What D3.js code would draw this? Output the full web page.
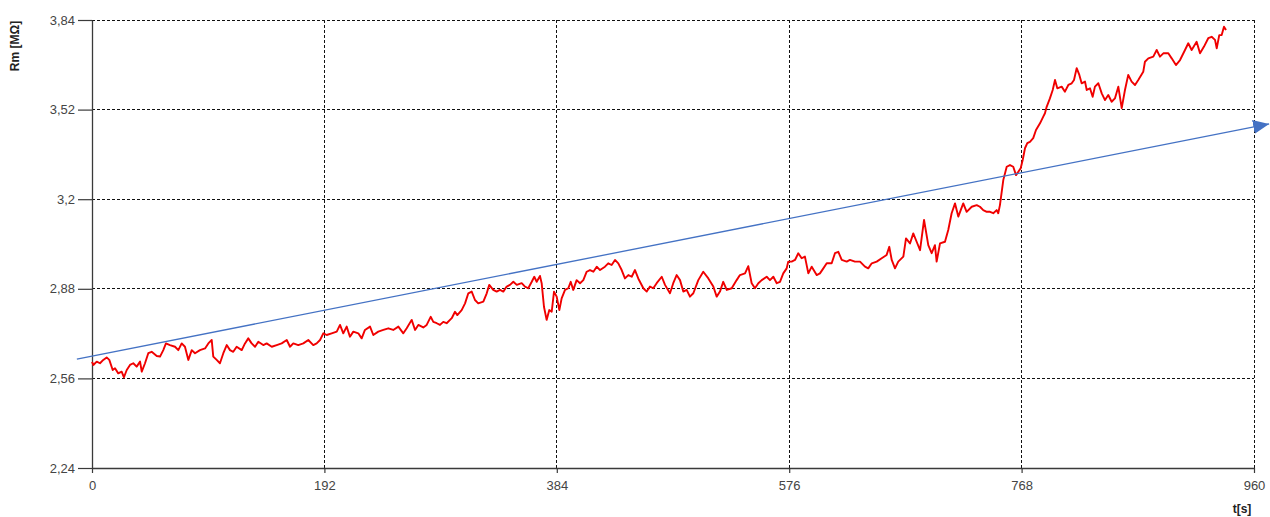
<!DOCTYPE html>
<html>
<head>
<meta charset="utf-8">
<script src="https://cdn.jsdelivr.net/npm/d3@7"></script>
<style>
html,body{margin:0;padding:0;background:#fff;}
svg{display:block;}
</style>
</head>
<body>
<svg id="chart" width="1270" height="517"></svg>
<script>
// ---- data ----
const xTicks = [0, 192, 384, 576, 768, 960];
const yTicks = [2.24, 2.56, 2.88, 3.2, 3.52, 3.84];
const xTitle = "t[s]";
const yTitle = "Rm [MΩ]";

const timeS = [
0,1.1,3.9,6.6,9.3,12.1,14.3,17.1,19.0,21.7,24.5,26.4,28.7,31.4,34.1,36.9,39.7,41.1,43.8,46.5,
49.3,53.5,56.2,58.9,61.1,64.4,68.6,71.3,74.1,76.8,79.6,82.4,85.1,89.2,93.4,96.1,98.9,100.2,103.0,105.7,
108.5,111.3,114.0,116.7,119.5,123.7,126.4,129.1,131.9,134.7,137.4,141.5,144.3,148.5,152.6,156.7,160.9,163.6,166.3,170.4,
174.6,178.7,182.8,185.6,188.4,191.1,193.9,198.0,202.2,204.9,207.6,210.4,213.1,215.9,220.0,222.8,225.5,229.7,232.4,236.5,
240.7,244.8,248.9,253.1,257.2,260.0,264.1,266.9,269.6,273.7,276.5,279.8,282.0,284.8,287.5,290.2,293.0,297.2,299.9,301.8,
305.4,308.2,310.9,313.7,316.4,319.1,323.3,326.1,328.2,331.5,334.3,337.1,339.8,342.6,345.3,348.1,350.9,355.0,357.7,360.4,
363.3,365.4,367.4,370.1,371.5,373.4,375.6,377.8,379.8,381.7,383.9,386.1,388.0,390.8,393.5,395.5,397.6,400.4,403.2,405.9,
408.7,411.4,414.2,417.0,419.7,423.8,426.5,429.3,432.1,434.8,437.6,440.3,443.1,445.9,448.6,451.3,455.5,458.3,461.0,463.7,
466.5,470.7,473.4,477.5,480.2,483.0,485.8,488.5,491.3,494.0,496.8,500.9,505.0,509.2,513.3,516.1,518.8,521.5,524.4,528.5,
532.6,535.3,539.5,542.2,545.0,547.7,550.5,553.3,557.4,560.1,562.9,565.7,568.4,571.1,573.9,575.2,578.0,580.8,583.5,586.3,
589.0,591.8,594.6,598.7,601.4,604.2,607.0,611.1,613.8,616.6,619.4,623.5,626.2,630.3,634.5,638.6,641.3,644.2,648.3,652.4,
656.5,658.7,660.7,663.4,666.1,670.3,672.5,675.8,678.5,681.3,684.1,687.4,690.9,693.7,696.4,697.8,700.6,704.7,707.4,710.2,
713.0,715.7,719.8,722.6,726.8,730.9,733.6,736.3,739.2,741.9,744.6,747.4,748.7,750.1,752.9,755.7,758.4,761.1,763.4,765.3,
767.2,768.9,770.8,772.7,774.9,777.6,779.9,783.2,785.9,787.3,788.7,791.4,793.7,795.6,797.5,801.1,803.8,806.6,809.4,811.3,
813.5,815.7,817.6,820.4,821.8,824.5,826.7,828.6,831.4,834.2,836.9,839.6,842.4,845.1,847.9,850.7,853.4,856.1,858.9,861.7,
864.4,868.5,869.9,872.7,876.8,879.6,882.3,885.1,889.2,892.0,895.5,898.9,903.0,905.7,908.5,912.6,915.4,918.7,922.2,925.0,
927.8,929.2,931.3,933.3,935.2,936.9
];
const rmValues = [
2.619,2.608,2.620,2.614,2.626,2.635,2.626,2.590,2.596,2.578,2.584,2.564,2.590,2.608,2.614,2.602,2.620,2.584,2.614,2.650,
2.655,2.640,2.638,2.661,2.685,2.679,2.673,2.661,2.685,2.673,2.626,2.661,2.650,2.661,2.667,2.685,2.697,2.638,2.626,2.614,
2.650,2.679,2.661,2.655,2.673,2.661,2.685,2.703,2.685,2.673,2.691,2.679,2.685,2.673,2.679,2.685,2.697,2.673,2.685,2.679,
2.685,2.697,2.679,2.685,2.697,2.721,2.715,2.721,2.727,2.751,2.721,2.745,2.709,2.727,2.721,2.703,2.733,2.745,2.715,2.727,
2.733,2.739,2.733,2.745,2.721,2.739,2.769,2.733,2.751,2.742,2.751,2.780,2.762,2.757,2.751,2.762,2.757,2.775,2.798,2.786,
2.804,2.828,2.864,2.870,2.840,2.828,2.834,2.864,2.894,2.876,2.870,2.876,2.870,2.888,2.894,2.905,2.894,2.900,2.888,2.882,
2.905,2.923,2.905,2.926,2.900,2.816,2.769,2.804,2.798,2.870,2.852,2.804,2.846,2.876,2.882,2.905,2.876,2.911,2.900,2.911,
2.941,2.947,2.941,2.959,2.947,2.959,2.971,2.965,2.983,2.971,2.947,2.917,2.929,2.923,2.947,2.917,2.882,2.870,2.888,2.882,
2.900,2.923,2.894,2.864,2.900,2.929,2.911,2.870,2.876,2.852,2.864,2.911,2.941,2.917,2.888,2.852,2.870,2.905,2.876,2.882,
2.911,2.929,2.935,2.961,2.900,2.882,2.900,2.911,2.923,2.911,2.923,2.900,2.905,2.935,2.953,2.977,2.977,2.983,3.007,2.989,
2.995,2.935,2.959,2.929,2.935,2.953,2.971,2.971,3.007,3.012,2.983,2.977,2.983,2.977,2.977,2.959,2.953,2.971,2.977,2.989,
3.001,3.030,2.983,2.953,2.977,2.995,3.060,3.042,3.078,3.048,3.018,3.126,3.036,3.007,3.036,2.977,3.042,3.048,3.090,3.150,
3.185,3.138,3.185,3.155,3.173,3.179,3.173,3.161,3.155,3.155,3.150,3.161,3.150,3.179,3.269,3.316,3.322,3.316,3.286,3.298,
3.310,3.340,3.382,3.400,3.405,3.418,3.447,3.471,3.495,3.507,3.530,3.560,3.590,3.626,3.596,3.602,3.584,3.608,3.614,3.626,
3.668,3.644,3.614,3.620,3.590,3.596,3.566,3.602,3.614,3.578,3.554,3.572,3.548,3.560,3.602,3.525,3.590,3.644,3.620,3.608,
3.626,3.655,3.691,3.703,3.709,3.733,3.709,3.721,3.721,3.703,3.679,3.697,3.733,3.757,3.733,3.762,3.721,3.745,3.775,3.780,
3.769,3.739,3.786,3.786,3.816,3.804
];
// trend arrow (start, tip) in data units
const trendT = [-12.5, 972.5];
const trendR = [2.629, 3.469];

// ---- drawing ----
const svg = d3.select("#chart");
const x = d3.scaleLinear().domain([0, 960]).range([92, 1254]);
const y = d3.scaleLinear().domain([2.24, 3.84]).range([468, 20]);
const fmt = d => String(d).replace(".", ",");

// grid
const grid = svg.append("g").attr("stroke", "#111").attr("stroke-width", 1)
  .attr("stroke-dasharray", "3,2").attr("shape-rendering", "crispEdges");
grid.selectAll("line.h").data(yTicks.slice(1)).join("line").attr("class", "h")
  .attr("x1", x(0)).attr("x2", x(960)).attr("y1", d => y(d)).attr("y2", d => y(d));
grid.selectAll("line.v").data(xTicks.slice(1)).join("line").attr("class", "v")
  .attr("x1", d => x(d)).attr("x2", d => x(d)).attr("y1", y(3.84)).attr("y2", y(2.24));

// axes
const yAxis = svg.append("g").attr("transform", `translate(${x(0)},0)`)
  .call(d3.axisLeft(y).tickValues(yTicks).tickFormat(fmt).tickSize(14).tickSizeOuter(0).tickPadding(3));
const xAxis = svg.append("g").attr("transform", `translate(0,${y(2.24)})`)
  .call(d3.axisBottom(x).tickValues(xTicks).tickFormat(fmt).tickSize(5).tickSizeOuter(0).tickPadding(8));
[yAxis, xAxis].forEach(a => {
  a.selectAll("path.domain").attr("stroke", "#3a3a3a").attr("stroke-width", 1.3);
  a.selectAll(".tick line").attr("stroke", "#3a3a3a").attr("stroke-width", 1.2);
  a.selectAll(".tick text").attr("fill", "#444").attr("font-family", "Liberation Sans, Arial, sans-serif").attr("font-size", 13);
});

// titles
svg.append("text").attr("transform", "translate(19,46) rotate(-90)")
  .attr("text-anchor", "middle").attr("font-family", "Liberation Sans, Arial, sans-serif")
  .attr("font-weight", "bold").attr("font-size", 12).attr("fill", "#222").text(yTitle);
svg.append("text").attr("x", 1242).attr("y", 513)
  .attr("text-anchor", "middle").attr("font-family", "Liberation Sans, Arial, sans-serif")
  .attr("font-weight", "bold").attr("font-size", 12).attr("fill", "#222").text(xTitle);

// data line
const series = timeS.map((t, i) => [t, rmValues[i]]);
svg.append("path").datum(series)
  .attr("fill", "none").attr("stroke", "#f00000").attr("stroke-width", 1.9).attr("stroke-linejoin", "round")
  .attr("d", d3.line().x(d => x(d[0])).y(d => y(d[1])));

// trend arrow
const defs = svg.append("defs");
defs.append("marker").attr("id", "ah").attr("viewBox", "0 0 16 14")
  .attr("refX", 16).attr("refY", 7).attr("markerWidth", 16).attr("markerHeight", 14)
  .attr("markerUnits", "userSpaceOnUse").attr("orient", "auto")
  .append("path").attr("d", "M0,0 L16,7 L0,14 Z").attr("fill", "#4472c4");
svg.append("line")
  .attr("x1", x(trendT[0])).attr("y1", y(trendR[0]))
  .attr("x2", x(trendT[1])).attr("y2", y(trendR[1]))
  .attr("stroke", "#4472c4").attr("stroke-width", 1.3).attr("marker-end", "url(#ah)");
</script>
</body>
</html>
